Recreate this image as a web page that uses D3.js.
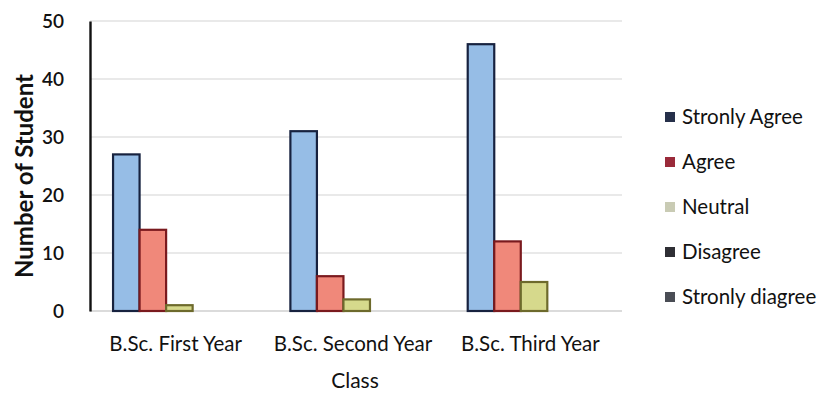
<!DOCTYPE html>
<html>
<head>
<meta charset="utf-8">
<script src="https://cdn.jsdelivr.net/npm/d3@7"></script>
<style>
  html, body { margin: 0; padding: 0; background: #fff; }
  svg { display: block; font-family: Lato, "Open Sans", sans-serif; }
</style>
</head>
<body>
<svg id="chart" width="836" height="394"></svg>
<script>
// Survey responses per class
const classes = ["B.Sc. First Year", "B.Sc. Second Year", "B.Sc. Third Year"];
const responses = ["Stronly Agree", "Agree", "Neutral", "Disagree", "Stronly diagree"];
const stronglyAgree = [27, 31, 46];
const agree = [14, 6, 12];
const neutral = [1, 2, 5];
const disagree = [0, 0, 0];
const stronglyDisagree = [0, 0, 0];
const yTicks = [0, 10, 20, 30, 40, 50];

const seriesValues = [stronglyAgree, agree, neutral, disagree, stronglyDisagree];
const fills   = ["#96bde6", "#f0887a", "#d6d98c", "#7f6aa6", "#4fa9c4"];
const strokes = ["#17223f", "#7a1a1e", "#6d6a2c", "#3b2f55", "#1d4d5c"];
const legendFills = ["#26304a", "#9a2a3a", "#c9cbb4", "#2e2e34", "#4a4d55"];

const svg = d3.select("#chart");
const plot = { left: 90, right: 622, top: 21, bottom: 311 };

const x0 = d3.scaleBand().domain(classes).range([plot.left, plot.right]).padding(0);
const bw = x0.bandwidth();
const x1 = d3.scaleBand().domain(responses).range([bw * 0.13, bw * 0.878]).padding(0);
const y = d3.scaleLinear().domain([0, 50]).range([plot.bottom, plot.top]);

// horizontal gridlines
svg.append("g")
  .selectAll("line")
  .data(yTicks)
  .join("line")
  .attr("x1", plot.left).attr("x2", plot.right)
  .attr("y1", d => y(d)).attr("y2", d => y(d))
  .attr("stroke", d => d === 0 ? "#cfcfcf" : "#e2e2e2")
  .attr("stroke-width", 1.3);

// y axis
const yAxis = d3.axisLeft(y).tickValues(yTicks).tickSize(0).tickPadding(26);
const gy = svg.append("g").attr("transform", `translate(${plot.left},0)`).call(yAxis);
gy.select(".domain").attr("stroke", "#111").attr("stroke-width", 2.4);
gy.selectAll("text")
  .attr("font-family", "Lato, sans-serif")
  .attr("font-size", 19)
  .attr("font-weight", 600)
  .attr("fill", "#111");

// x axis labels
const xAxis = d3.axisBottom(x0).tickSize(0).tickPadding(25);
const gx = svg.append("g").attr("transform", `translate(0,${plot.bottom})`).call(xAxis);
gx.select(".domain").remove();
gx.selectAll("text")
  .attr("font-family", "Lato, sans-serif")
  .attr("font-size", 20.5)
  .attr("fill", "#111")
  .attr("dx", -3);

// bars
const groups = svg.append("g")
  .selectAll("g")
  .data(classes)
  .join("g")
  .attr("transform", d => `translate(${x0(d)},0)`);

groups.selectAll("rect")
  .data((c, ci) => responses.map((r, si) => ({ r, si, v: seriesValues[si][ci] })).filter(d => d.v > 0))
  .join("rect")
  .attr("x", d => x1(d.r))
  .attr("width", x1.bandwidth())
  .attr("y", d => y(d.v))
  .attr("height", d => y(0) - y(d.v))
  .attr("fill", d => fills[d.si])
  .attr("stroke", d => strokes[d.si])
  .attr("stroke-width", 2.2);

// axis titles
svg.append("text")
  .attr("transform", `translate(33,${(plot.top + plot.bottom) / 2 + 10}) rotate(-90)`)
  .attr("text-anchor", "middle")
  .attr("font-family", "Lato, sans-serif")
  .attr("font-size", 24)
  .attr("font-weight", 700)
  .attr("fill", "#111")
  .text("Number of Student");

svg.append("text")
  .attr("x", 355)
  .attr("y", 388)
  .attr("text-anchor", "middle")
  .attr("font-family", "Lato, sans-serif")
  .attr("font-size", 21)
  .attr("fill", "#111")
  .text("Class");

// legend
const legend = svg.append("g")
  .selectAll("g")
  .data(responses)
  .join("g")
  .attr("transform", (d, i) => `translate(665,${117 + i * 45})`);

legend.append("rect")
  .attr("x", 0).attr("y", -5)
  .attr("width", 10).attr("height", 10)
  .attr("fill", (d, i) => legendFills[i]);

legend.append("text")
  .attr("x", 17).attr("y", 0)
  .attr("dy", "0.35em")
  .attr("font-family", "Lato, sans-serif")
  .attr("font-size", 20.5)
  .attr("fill", "#111")
  .text(d => d);
</script>
</body>
</html>
